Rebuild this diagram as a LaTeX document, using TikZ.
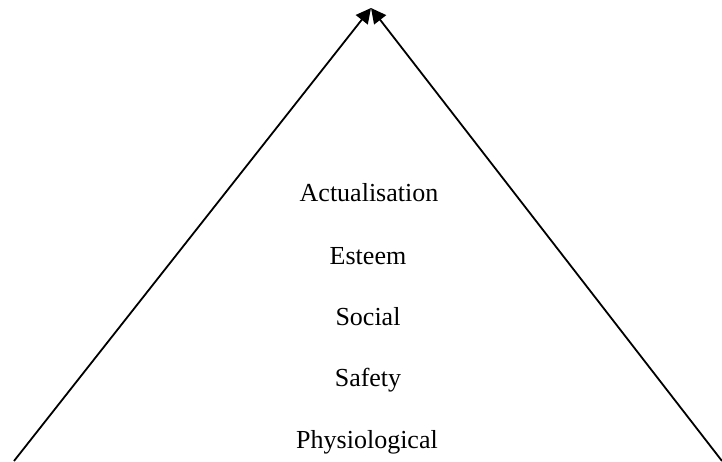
\documentclass[tikz,border=0pt]{standalone}
\usepackage{fontspec}
\setmainfont{Liberation Serif}
\usetikzlibrary{arrows.meta}

\begin{document}
\begin{tikzpicture}[x=0.5pt,y=-0.5pt]
\tikzset{level/.style = {anchor=base,inner sep=0pt,font=\fontsize{13}{15}\selectfont}}
\tikzset{side/.style = {-{Triangle[length=7.5pt,width=7.5pt]},line width=0.9pt}}
\useasboundingbox (0,0) rectangle (722,461);
%\draw (0,0) rectangle (722,461);
\coordinate (top) at (371,8);
\coordinate (bl) at (14,461);
\coordinate (br) at (722,461);
\node[level] (act) at (369,201) {Actualisation};
\node[level] (est) at (368,264) {Esteem};
\node[level] (soc) at (368,325) {Social};
\node[level] (saf) at (368,386) {Safety};
\node[level] (phy) at (367,448) {Physiological};
\draw[side] (bl) to (top);
\draw[side] (br) to (top);
\end{tikzpicture}
\end{document}
